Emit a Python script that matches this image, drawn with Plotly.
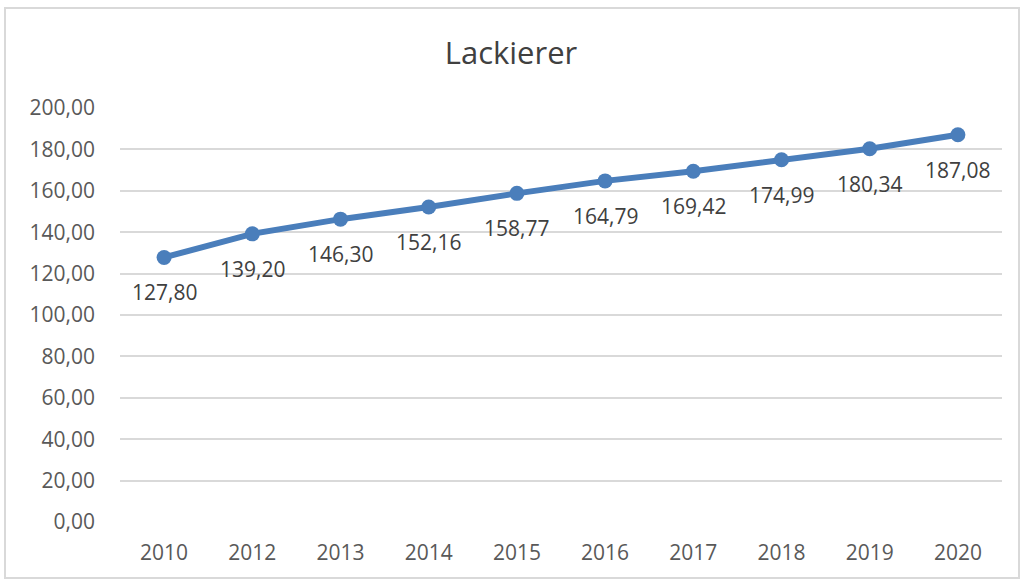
import plotly.graph_objects as go

years = ["2010", "2012", "2013", "2014", "2015", "2016", "2017", "2018", "2019", "2020"]
values = [127.80, 139.20, 146.30, 152.16, 158.77, 164.79, 169.42, 174.99, 180.34, 187.08]
labels = [f"{v:.2f}".replace(".", ",") for v in values]
y_ticks = list(range(0, 201, 20))
y_tick_text = [f"{t},00" for t in y_ticks]

FONT = "Open Sans"
TXT = "#595959"

fig = go.Figure()
fig.add_trace(go.Scatter(
    x=years, y=values, mode="lines+markers",
    line=dict(color="#4a7ebb", width=6),
    marker=dict(color="#4a7ebb", size=15),
    hoverinfo="skip", showlegend=False,
))

for i, (y, t) in enumerate(zip(values, labels)):
    fig.add_annotation(x=i, y=y, xref="x", yref="y", text=t, showarrow=False,
                       yshift=-35,
                       font=dict(family=FONT, size=21, color="#404040"))

fig.add_shape(type="rect", xref="paper", yref="paper",
              x0=-0.1304, x1=1.0193, y0=-0.1353, y1=1.2415,
              line=dict(color="#d9d9d9", width=2), layer="below")

fig.update_layout(
    width=1022, height=581,
    margin=dict(l=120, r=20, t=108, b=59),
    paper_bgcolor="white", plot_bgcolor="white",
    title=dict(text="Lackierer", x=0.5, xref="container", xanchor="center",
               y=1 - 53 / 581, yanchor="middle",
               font=dict(family=FONT, size=31, color="#404040")),
    font=dict(family=FONT, color=TXT),
    xaxis=dict(type="category", range=[-0.5, 9.5], showgrid=False,
               showline=False, zeroline=False, ticks="",
               tickfont=dict(family=FONT, size=21, color=TXT),
               ticklabelstandoff=16),
    yaxis=dict(range=[0, 200], tickvals=y_ticks, ticktext=y_tick_text,
               showgrid=True, gridcolor="#d9d9d9", gridwidth=2,
               zeroline=False, showline=False, ticks="",
               tickfont=dict(family=FONT, size=21, color=TXT),
               ticklabelstandoff=24),
)

fig.write_html("out.html", config={"displayModeBar": False},
               post_script="document.body.style.margin='0';")
